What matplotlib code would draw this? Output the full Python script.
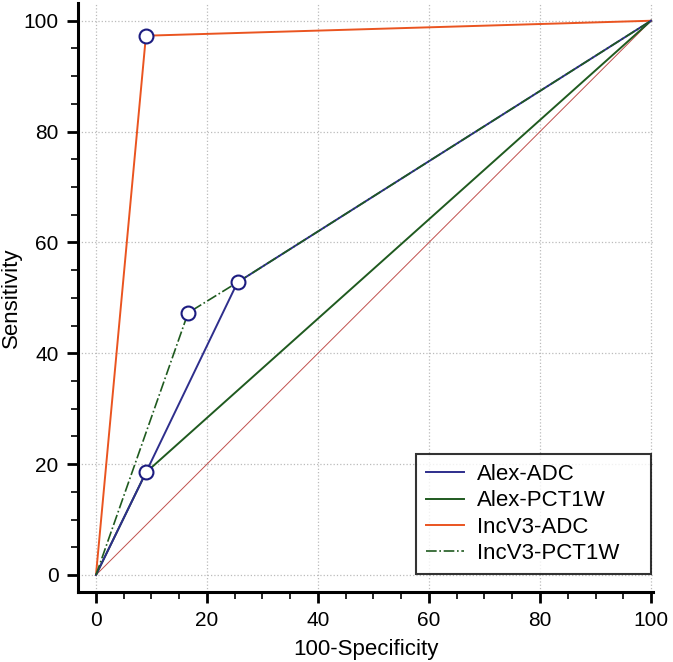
import matplotlib.pyplot as plt
from matplotlib.ticker import MultipleLocator

plt.rcParams['font.family'] = ['Liberation Sans', 'DejaVu Sans']

# ROC points (100-Specificity, Sensitivity)
alex_adc_x = [0, 9, 25.5, 100]
alex_adc_y = [0, 18.5, 52.8, 100]
alex_pct_x = [0, 9, 100]
alex_pct_y = [0, 18.5, 100]
inc_adc_x = [0, 9, 100]
inc_adc_y = [0, 97.3, 100]
inc_pct_x = [0, 16.6, 25.5, 100]
inc_pct_y = [0, 47.3, 52.8, 100]

# operating points marked with circles
mark_x = [9, 25.5, 9, 16.6]
mark_y = [18.5, 52.8, 97.3, 47.3]

ticks = [0, 20, 40, 60, 80, 100]

fig = plt.figure(figsize=(6.73, 6.62), dpi=100)
ax = fig.add_axes([78 / 673, 70 / 662, 575 / 673, 589 / 662])

ax.plot([0, 100], [0, 100], color='#c0504d', lw=0.7, zorder=2)
ax.plot(alex_pct_x, alex_pct_y, color='#1f5a1f', lw=1.4, label='Alex-PCT1W', zorder=3)
ax.plot(alex_adc_x, alex_adc_y, color='#2e2e8c', lw=1.4, label='Alex-ADC', zorder=4)
ax.plot(inc_adc_x, inc_adc_y, color='#ea5420', lw=1.4, label='IncV3-ADC', zorder=3)
ax.plot(inc_pct_x, inc_pct_y, color='#1f5a1f', lw=1.2, ls='-.', label='IncV3-PCT1W', zorder=4)
ax.plot(mark_x, mark_y, ls='none', marker='o', ms=10, mfc='white', mec='#1c1c80',
        mew=1.5, zorder=5)

ax.set_xlim(-3.24, 100.36)
ax.set_ylim(-3.07, 103.2)
ax.set_xticks(ticks)
ax.set_yticks(ticks)
ax.xaxis.set_minor_locator(MultipleLocator(5))
ax.yaxis.set_minor_locator(MultipleLocator(5))
ax.grid(True, which='major', color='#bbbbbb', ls=':', lw=0.9)
ax.set_axisbelow(True)

for s in ['top', 'right']:
    ax.spines[s].set_visible(False)
for s in ['left', 'bottom']:
    ax.spines[s].set_linewidth(2.2)
ax.tick_params(which='major', length=8, width=2, labelsize=15, direction='out', pad=6)
ax.tick_params(which='minor', length=5, width=1.2, direction='out')

ax.set_xlabel('100-Specificity', fontsize=16, labelpad=6)
ax.set_ylabel('Sensitivity', fontsize=16)
ax.yaxis.set_label_coords(-0.098, 0.5)

handles, labels = ax.get_legend_handles_labels()
order = ['Alex-ADC', 'Alex-PCT1W', 'IncV3-ADC', 'IncV3-PCT1W']
hl = [handles[labels.index(o)] for o in order]
leg = ax.legend(hl, order, loc='lower left', bbox_to_anchor=(0.588, 0.0306, 0.409, 0.2),
                mode='expand', fontsize=16, frameon=True, fancybox=False,
                edgecolor='black', handlelength=1.7, handletextpad=0.6,
                borderpad=0.45, labelspacing=0.24, borderaxespad=0)
leg.get_frame().set_linewidth(1.5)

fig.savefig('out.png', dpi=100)
